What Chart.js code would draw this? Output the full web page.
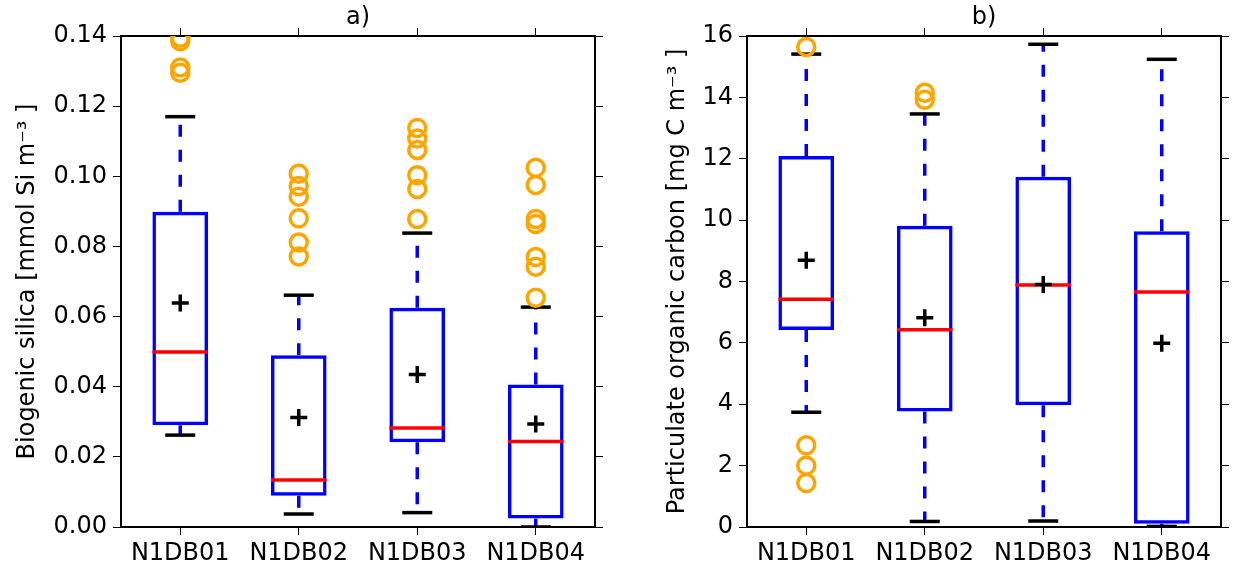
<!DOCTYPE html>
<html>
<head>
<meta charset="utf-8">
<script src="https://cdn.jsdelivr.net/npm/chart.js@4/dist/chart.umd.min.js"></script>
<style>
  html, body { margin: 0; padding: 0; background: #fff; }
  #wrap { position: relative; width: 1233px; height: 569px; overflow: hidden; }
  canvas { position: absolute; top: 0; }
  #ca { left: 0; }
  #cb { left: 616px; }
</style>
</head>
<body>
<div id="wrap">
  <canvas id="ca" width="616" height="569"></canvas>
  <canvas id="cb" width="617" height="569"></canvas>
</div>
<script>
const categories = ['N1DB01', 'N1DB02', 'N1DB03', 'N1DB04'];

// Biogenic silica [mmol Si m-3]
const silicaQ1     = [0.0290, 0.0089, 0.0242, 0.0024];
const silicaQ3     = [0.0899, 0.0490, 0.0625, 0.0406];
const silicaMedian = [0.0499, 0.0134, 0.0282, 0.0244];
const silicaMean   = [0.0639, 0.0312, 0.0435, 0.0294];
const silicaLow    = [0.0262, 0.0037, 0.0041, 0.0000];
const silicaHigh   = [0.1170, 0.0661, 0.0838, 0.0627];
const silicaOutliers = [
  [0.1395, 0.1385, 0.1310, 0.1295],
  [0.1007, 0.0972, 0.0942, 0.0880, 0.0811, 0.0771],
  [0.1138, 0.1108, 0.1075, 0.1003, 0.0964, 0.0878],
  [0.1024, 0.0975, 0.0878, 0.0864, 0.0770, 0.0742, 0.0654]
];
const silicaTicks = [0, 0.02, 0.04, 0.06, 0.08, 0.10, 0.12, 0.14];

// Particulate organic carbon [mg C m-3]
const pocQ1     = [6.42, 3.76, 3.97, 0.107];
const pocQ3     = [12.09, 9.82, 11.41, 9.64];
const pocMedian = [7.42, 6.43, 7.89, 7.66];
const pocMean   = [8.69, 6.82, 7.90, 5.99];
const pocLow    = [3.74, 0.18, 0.195, 0.02];
const pocHigh   = [15.41, 13.46, 15.73, 15.24];
const pocOutliers = [
  [15.64, 2.66, 2.00, 1.43],
  [14.15, 13.92],
  [],
  []
];
const pocTicks = [0, 2, 4, 6, 8, 10, 12, 14, 16];

Chart.defaults.font.family = "'DejaVu Sans', sans-serif";
Chart.defaults.font.size = 24;
Chart.defaults.color = '#000';

const BLUE = '#0000ff', RED = '#ff0000', ORANGE = '#ffa500', BLACK = '#000000';

function seg(ctx, x1, y1, x2, y2) {
  ctx.beginPath();
  ctx.moveTo(x1, y1);
  ctx.lineTo(x2, y2);
  ctx.stroke();
}

// Whiskers, caps and medians drawn through the chart's own scales
function boxPartsPlugin(stats) {
  return {
    id: 'boxParts',
    beforeDatasetsDraw(chart) {
      const { ctx, chartArea: a } = chart;
      const xs = chart.scales.x, ys = chart.scales.y;
      ctx.save();
      ctx.beginPath();
      ctx.rect(a.left, a.top, a.right - a.left, a.bottom - a.top);
      ctx.clip();
      ctx.lineCap = 'butt';
      stats.q1.forEach((q1, i) => {
        const cx = xs.getPixelForValue(i);
        const pq1 = ys.getPixelForValue(q1);
        const pq3 = ys.getPixelForValue(stats.q3[i]);
        const plo = ys.getPixelForValue(stats.low[i]);
        const phi = ys.getPixelForValue(stats.high[i]);
        ctx.strokeStyle = BLUE;
        ctx.lineWidth = 3.5;
        ctx.setLineDash([12, 13]);
        seg(ctx, cx, pq3, cx, phi);
        seg(ctx, cx, pq1, cx, plo);
        ctx.setLineDash([]);
        ctx.strokeStyle = BLACK;
        ctx.lineWidth = 3.5;
        seg(ctx, cx - 15, phi, cx + 15, phi);
        seg(ctx, cx - 15, plo, cx + 15, plo);
      });
      ctx.restore();
    },
    afterDatasetDraw(chart, args) {
      if (args.index !== 0) return;
      const { ctx, chartArea: a } = chart;
      const ys = chart.scales.y;
      const meta = chart.getDatasetMeta(0);
      ctx.save();
      ctx.beginPath();
      ctx.rect(a.left, a.top, a.right - a.left, a.bottom - a.top);
      ctx.clip();
      ctx.strokeStyle = RED;
      ctx.lineWidth = 3.5;
      stats.median.forEach((m, i) => {
        const bar = meta.data[i];
        const half = bar.width / 2;
        const py = ys.getPixelForValue(m);
        seg(ctx, bar.x - half, py, bar.x + half, py);
      });
      ctx.restore();
    }
  };
}

function makePanel(canvasId, cfg) {
  const outlierPoints = [];
  cfg.outliers.forEach((list, i) => list.forEach(v => outlierPoints.push({ x: categories[i], y: v })));

  const tickMarks = { display: true, drawOnChartArea: false, drawTicks: true, tickLength: 8,
                      tickColor: BLACK, tickWidth: 1, offset: false };
  const frame = { display: true, color: BLACK, width: 2 };
  const setTicks = scale => { scale.ticks = cfg.ticks.map(v => ({ value: v })); };

  return new Chart(document.getElementById(canvasId), {
    type: 'bar',
    data: {
      labels: categories,
      datasets: [
        {
          label: 'box',
          data: cfg.q1.map((q, i) => [q, cfg.q3[i]]),
          backgroundColor: 'rgba(0,0,0,0)',
          borderColor: BLUE,
          borderWidth: 3.5,
          borderSkipped: false,
          barPercentage: 0.47,
          categoryPercentage: 1,
          order: 3
        },
        {
          type: 'line',
          label: 'outliers',
          data: outlierPoints,
          showLine: false,
          pointStyle: 'circle',
          pointRadius: 8.5,
          pointHoverRadius: 8.5,
          pointBorderWidth: 3.5,
          pointBorderColor: ORANGE,
          pointBackgroundColor: 'rgba(0,0,0,0)',
          order: 2
        },
        {
          type: 'line',
          label: 'mean',
          data: cfg.mean,
          showLine: false,
          pointStyle: 'cross',
          pointRadius: 8.5,
          pointHoverRadius: 8.5,
          pointBorderWidth: 3.5,
          pointBorderColor: BLACK,
          order: 1
        }
      ]
    },
    options: {
      responsive: false,
      animation: false,
      events: [],
      layout: { padding: 0, autoPadding: false },
      plugins: { legend: { display: false }, tooltip: { enabled: false }, title: { display: false } },
      scales: {
        x: {
          type: 'category', position: 'bottom', offset: true,
          grid: tickMarks, border: frame,
          ticks: { padding: 4, maxRotation: 0, autoSkip: false },
          afterFit: s => { s.height = cfg.bottomH; }
        },
        x2: {
          type: 'category', position: 'top', offset: true, labels: categories,
          grid: tickMarks, border: frame,
          ticks: { display: false },
          title: { display: true, text: cfg.title, padding: { top: 3, bottom: 0 } },
          afterFit: s => { s.height = cfg.topH; }
        },
        y: {
          type: 'linear', position: 'left', min: 0, max: cfg.max,
          grid: tickMarks, border: frame,
          ticks: { padding: 6, callback: v => v.toFixed(cfg.decimals) },
          afterBuildTicks: setTicks,
          title: { display: true, text: cfg.yLabel, padding: { top: cfg.titlePad, bottom: 0 } },
          afterFit: s => { s.width = cfg.leftW; }
        },
        y2: {
          type: 'linear', position: 'right', min: 0, max: cfg.max,
          grid: tickMarks, border: frame,
          ticks: { display: false },
          afterBuildTicks: setTicks,
          afterFit: s => { s.width = cfg.rightW; }
        }
      }
    },
    plugins: [boxPartsPlugin(cfg)]
  });
}

makePanel('ca', {
  title: 'a)', yLabel: 'Biogenic silica [mmol Si m\u207B\u00B3 ]',
  q1: silicaQ1, q3: silicaQ3, median: silicaMedian, mean: silicaMean,
  low: silicaLow, high: silicaHigh, outliers: silicaOutliers,
  ticks: silicaTicks, max: 0.14, decimals: 2,
  leftW: 121, rightW: 21, topH: 36, bottomH: 42, titlePad: 13
});

makePanel('cb', {
  title: 'b)', yLabel: 'Particulate organic carbon [mg C m\u207B\u00B3 ]',
  q1: pocQ1, q3: pocQ3, median: pocMedian, mean: pocMean,
  low: pocLow, high: pocHigh, outliers: pocOutliers,
  ticks: pocTicks, max: 16, decimals: 0,
  leftW: 131, rightW: 12, topH: 36, bottomH: 42, titlePad: 47
});
</script>
</body>
</html>
